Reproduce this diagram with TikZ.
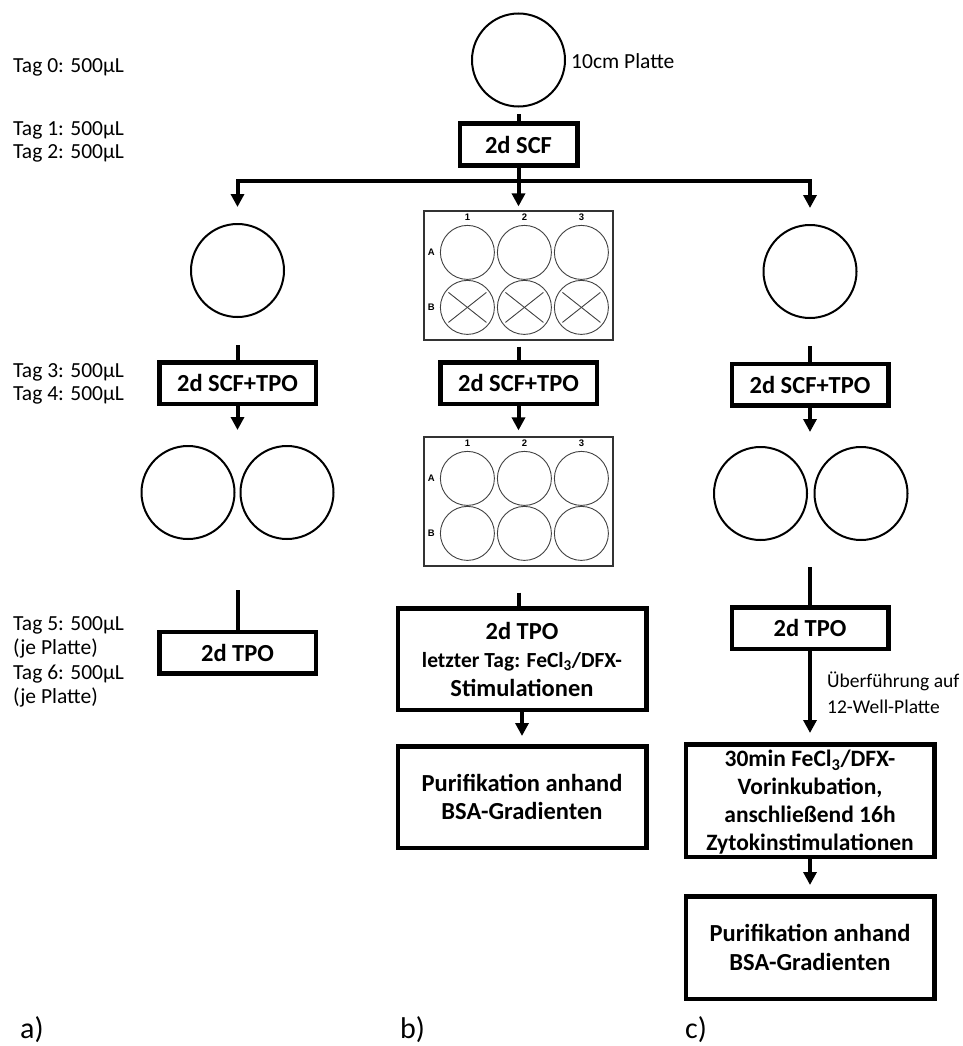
\documentclass[tikz,border=0pt]{standalone}
\usepackage{fontspec}
\setmainfont{Carlito}
\newfontfamily\platefont{Liberation Sans}
\usetikzlibrary{arrows.meta}

\begin{document}
\begin{tikzpicture}[x=1pt, y=-1pt,
    dish/.style={draw, circle, line width=2pt, minimum size=93pt, inner sep=0pt},
    stepbox/.style={draw, line width=4.5pt, align=center, inner sep=0pt, minimum width=156.5pt, minimum height=41.5pt, font=\bfseries\fontsize{24.5}{28.5}\selectfont},
    bigbox/.style={stepbox, minimum width=248.5pt, minimum height=101.5pt},
    plate/.style={draw=black!80, line width=1.2pt, minimum width=189pt, minimum height=129pt, inner sep=0pt},
    well/.style={draw=black!75, line width=0.9pt},
    wellname/.style={font=\platefont\bfseries\fontsize{9.5}{10}\selectfont, inner sep=0pt},
    daylbl/.style={anchor=west, align=left, inner sep=0pt, font=\fontsize{21.5}{23}\selectfont},
    conn/.style={line width=4pt},
    arr/.style={conn, -{Triangle[length=13pt,width=13pt]}},
  ]
\useasboundingbox (0,0) rectangle (963,1046);

% days on the left
\node[daylbl] (tag0) at (13,67) {Tag 0: 500µL};
\node[daylbl] (tag12) at (13,141.5) {Tag 1: 500µL\\Tag 2: 500µL};
\node[daylbl, font=\fontsize{21.5}{22.5}\selectfont] (tag34) at (13,384) {Tag 3: 500µL\\Tag 4: 500µL};
\node[daylbl, font=\fontsize{21.5}{24.5}\selectfont] (tag56) at (13,662) {Tag 5: 500µL\\(je Platte)\\Tag 6: 500µL\\(je Platte)};

% start
\node[dish] (dish0) at (518.5,60) {};
\node[daylbl] (dishname) at (571,61) {10cm Platte};
\node[stepbox, minimum width=117.5pt] (scf) at (518.5,144.5) {2d SCF};
\coordinate (split) at (518.5,181);

% three branches
\node[dish] (dishL) at (237.5,270.5) {};
\node[plate] (plateM1) at (518.5,275.5) {};
\node[dish] (dishR) at (810,271.5) {};

\node[stepbox] (tpoL1) at (237.5,383) {2d SCF+TPO};
\node[stepbox] (tpoM1) at (518.5,383) {2d SCF+TPO};
\node[stepbox] (tpoR1) at (810,384.5) {2d SCF+TPO};

\node[dish] (pairL1) at (188,492.5) {};
\node[dish] (pairL2) at (287,492.5) {};
\node[plate] (plateM2) at (518.5,501.5) {};
\node[dish] (pairR1) at (760.5,493.5) {};
\node[dish] (pairR2) at (861,493.5) {};
\coordinate (inL) at (237.5,430);
\coordinate (outL) at (237.5,590);
\coordinate (inR) at (810,432);
\coordinate (outR) at (810,567);

\node[stepbox] (tpoL2) at (237.5,652.5) {2d TPO};
\node[bigbox] (tpoM2) at (522,659) {2d TPO\\{\fontsize{21.5}{28.5}\selectfont letzter Tag: FeCl\textsubscript{3}/DFX-}\\Stimulationen};
\node[bigbox] (purM) at (522,797) {Purifikation anhand\\BSA-Gradienten};
\node[stepbox] (tpoR2) at (810,628) {2d TPO};
\node[daylbl, font=\fontsize{19.5}{26}\selectfont] (transfer) at (827,693) {Überführung auf\\12-Well-Platte};
\node[bigbox, minimum height=112.5pt] (preR) at (810,800.5) {};
\node[align=center, inner sep=0pt, font=\bfseries\fontsize{23.5}{28}\selectfont] (preRtext) at (810,802) {30min FeCl\textsubscript{3}/DFX-\\Vorinkubation,\\anschließend 16h\\Zytokinstimulationen};
\node[bigbox, minimum height=102.5pt] (purR) at (810,947.5) {Purifikation anhand\\BSA-Gradienten};

% wells of the 6-well plates
\foreach \p in {plateM1,plateM2} {
  \begin{scope}[shift={(\p.north west)}]
    \foreach \c/\x in {1/44,2/101,3/158} {
      \node[wellname] at (\x,7) {\c};
      \draw[well] (\x,42) circle[radius=27pt];
      \draw[well] (\x,97) circle[radius=27pt];
    }
    \node[wellname] at (8,42) {A};
    \node[wellname] at (8,97) {B};
  \end{scope}
}
\begin{scope}[shift={(plateM1.north west)}]
  \foreach \x in {44,101,158} {
    \draw[well] (\x-19,82) -- (\x+19,112);
    \draw[well] (\x-19,112) -- (\x+19,82);
  }
\end{scope}

% connectors
\draw[conn] ([yshift=-7pt]dish0.south) -- (scf.north);
\draw[conn] (scf.south) -- (split);
\draw[arr] (split) -| ([yshift=16pt]dishL.north);
\draw[arr] (split) -| ([yshift=16pt]dishR.north);
\draw[arr] (split) -- ([yshift=4pt]plateM1.north);

\draw[conn] ([yshift=-27pt]dishL.south) -- (tpoL1.north);
\draw[conn] ([yshift=-6pt]plateM1.south) -- (tpoM1.north);
\draw[conn] ([yshift=-27pt]dishR.south) -- (tpoR1.north);

\draw[arr] (tpoL1.south) -- (inL);
\draw[arr] (tpoM1.south) -- ([yshift=6pt]plateM2.north);
\draw[arr] (tpoR1.south) -- (inR);

\draw[conn] (outL) -- (tpoL2.north);
\draw[conn] ([yshift=-26pt]plateM2.south) -- (plateM2.south |- tpoM2.north);
\draw[conn] (outR) -- (tpoR2.north);

\draw[arr] (tpoM2.south) -- ([yshift=8pt]purM.north);
\draw[arr] (tpoR2.south) -- ([yshift=9pt]preR.north);
\draw[arr] (preR.south) -- ([yshift=9pt]purR.north);

% panel letters
\node[daylbl, font=\fontsize{30}{32}\selectfont] (panelA) at (20,1030) {a)};
\node[daylbl, font=\fontsize{30}{32}\selectfont] (panelB) at (400,1030) {b)};
\node[daylbl, font=\fontsize{30}{32}\selectfont] (panelC) at (685,1030) {c)};
\end{tikzpicture}
\end{document}
